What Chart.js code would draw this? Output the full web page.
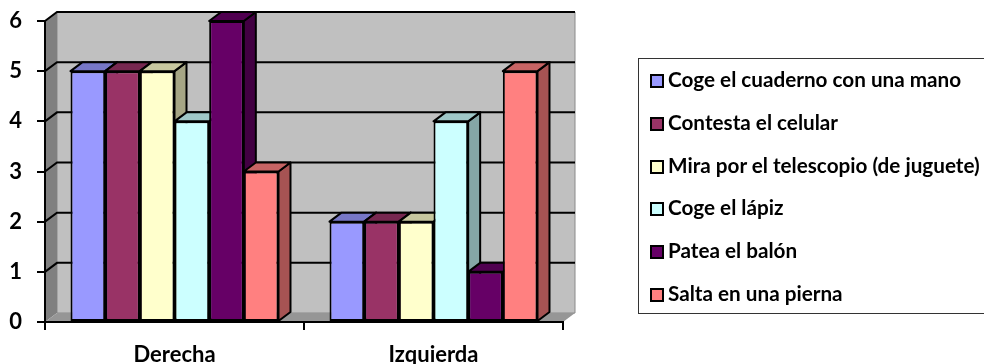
<!DOCTYPE html>
<html>
<head>
<meta charset="utf-8">
<style>
  html, body { margin: 0; padding: 0; background: #fff; overflow: hidden; width: 984px; height: 364px; }
  #lineLeftCanvas { position: absolute; left: 0; top: 0; }
  #legend { position: absolute; left: 638px; top: 58px; width: 400px; height: 254px; border: 1px solid #333; box-sizing: content-box; font: bold 20.7px Lato, sans-serif; color: #000; }
  #legend div { position: absolute; left: 11px; white-space: nowrap; line-height: 20px; }
  #legend i { display: inline-block; width: 10px; height: 10px; border: 2px solid #000; margin-right: 4px; vertical-align: -1px; }
</style>
<script src="https://cdn.jsdelivr.net/npm/chart.js@4"></script>
</head>
<body>
<canvas id="lineLeftCanvas" width="984" height="364"></canvas>
<div id="legend"></div>
<script>
const labels = ["Derecha", "Izquierda"];
const seriesNames = [
  "Coge el cuaderno con una mano",
  "Contesta el celular",
  "Mira por el telescopio (de juguete)",
  "Coge el lápiz",
  "Patea el balón",
  "Salta en una pierna",
];
const cuaderno = [5, 2];
const celular = [5, 2];
const telescopio = [5, 2];
const lapiz = [4, 4];
const balon = [6, 1];
const pierna = [3, 5];
const colors = ["#9999FF", "#993366", "#FFFFCC", "#CCFFFF", "#660066", "#FF8080"];

// fake 3D depth, same slant as the old spreadsheet chart
const depthX = 12;
const depthY = 9;

function shade(hex, f) {
  const n = parseInt(hex.slice(1), 16);
  const r = Math.round(((n >> 16) & 255) * f);
  const g = Math.round(((n >> 8) & 255) * f);
  const b = Math.round((n & 255) * f);
  return "rgb(" + r + "," + g + "," + b + ")";
}

function poly(ctx, pts, fill, stroke, width) {
  ctx.beginPath();
  pts.forEach((p, i) => (i ? ctx.lineTo(p[0], p[1]) : ctx.moveTo(p[0], p[1])));
  ctx.closePath();
  ctx.fillStyle = fill;
  ctx.fill();
  if (stroke) {
    ctx.strokeStyle = stroke;
    ctx.lineWidth = width;
    ctx.stroke();
  }
}

const walls = {
  id: "walls",
  beforeDraw(chart) {
    const ctx = chart.ctx;
    const a = chart.chartArea;
    const y = chart.scales.y;
    ctx.save();
    poly(ctx, [[a.left + depthX, a.top - depthY], [a.right + depthX, a.top - depthY], [a.right + depthX, a.bottom - depthY], [a.left + depthX, a.bottom - depthY]], "#C0C0C0", "#8a8a8a", 1);
    poly(ctx, [[a.left, a.top], [a.left + depthX, a.top - depthY], [a.left + depthX, a.bottom - depthY], [a.left, a.bottom]], "#808080");
    poly(ctx, [[a.left, a.bottom], [a.left + depthX, a.bottom - depthY], [a.right + depthX, a.bottom - depthY], [a.right, a.bottom]], "#969696");
    ctx.strokeStyle = "#000";
    ctx.lineWidth = 2;
    y.ticks.forEach((t) => {
      if (t.value === 0) return;
      const py = y.getPixelForValue(t.value);
      ctx.beginPath();
      ctx.moveTo(a.left, py);
      ctx.lineTo(a.left + depthX, py - depthY);
      ctx.lineTo(a.right + depthX, py - depthY);
      ctx.stroke();
    });
    ctx.restore();
  },
};

const barDepth = {
  id: "barDepth",
  beforeDatasetsDraw(chart) {
    const ctx = chart.ctx;
    ctx.save();
    ctx.lineJoin = "round";
    labels.forEach((_, c) => {
      chart.data.datasets.forEach((ds, i) => {
        const bar = chart.getDatasetMeta(i).data[c];
        const l = bar.x - bar.width / 2;
        const r = bar.x + bar.width / 2;
        poly(ctx, [[r, bar.y], [r + depthX, bar.y - depthY], [r + depthX, bar.base - depthY], [r, bar.base]], shade(colors[i], 0.65), "#000", 2);
        poly(ctx, [[l, bar.y], [l + depthX, bar.y - depthY], [r + depthX, bar.y - depthY], [r, bar.y]], shade(colors[i], 0.78), "#000", 2);
      });
    });
    ctx.restore();
  },
};

const htmlLegend = {
  id: "htmlLegend",
  afterUpdate(chart) {
    const box = document.getElementById("legend");
    box.innerHTML = "";
    chart.data.datasets.forEach((ds, i) => {
      const row = document.createElement("div");
      row.style.top = 10 + i * 42.8 + "px";
      const swatch = document.createElement("i");
      swatch.style.background = ds.backgroundColor;
      row.appendChild(swatch);
      row.appendChild(document.createTextNode(ds.label));
      box.appendChild(row);
    });
  },
};

const seriesValues = [cuaderno, celular, telescopio, lapiz, balon, pierna];

const data = {
  labels: labels,
  datasets: seriesNames.map((name, i) => ({
    label: name,
    data: seriesValues[i],
    backgroundColor: colors[i],
    borderColor: "#000",
    borderWidth: 2,
    borderSkipped: false,
    categoryPercentage: 0.803,
    barPercentage: 1,
    clip: false,
  })),
};

const tickFont = { family: "Lato", weight: "bold", size: 22 };

const config = {
  type: "bar",
  data: data,
  plugins: [walls, barDepth, htmlLegend],
  options: {
    responsive: false,
    animation: false,
    layout: { autoPadding: false, padding: { top: 21, right: 421, bottom: 0, left: 0 } },
    plugins: {
      legend: { display: false },
      tooltip: { enabled: false },
    },
    scales: {
      x: {
        afterFit(scale) {
          scale.height = 42;
        },
        border: { color: "#000", width: 2 },
        grid: { color: "#000", lineWidth: 2, drawOnChartArea: false, tickLength: 8 },
        ticks: { color: "#000", font: tickFont, padding: 12, maxRotation: 0 },
      },
      y: {
        min: 0,
        max: 6,
        afterFit(scale) {
          scale.width = 45;
          scale.paddingTop = 0;
          scale.paddingBottom = 0;
        },
        border: { color: "#000", width: 2 },
        grid: { color: "#000", lineWidth: 2, drawOnChartArea: false, tickLength: 8 },
        ticks: { color: "#000", font: tickFont, padding: 15, stepSize: 1 },
      },
    },
  },
};

const canvas = document.getElementById("lineLeftCanvas");
if (canvas) {
  new Chart(canvas.getContext("2d"), config);
} else {
  console.error("Canvas not found");
}
</script>
</body>
</html>
